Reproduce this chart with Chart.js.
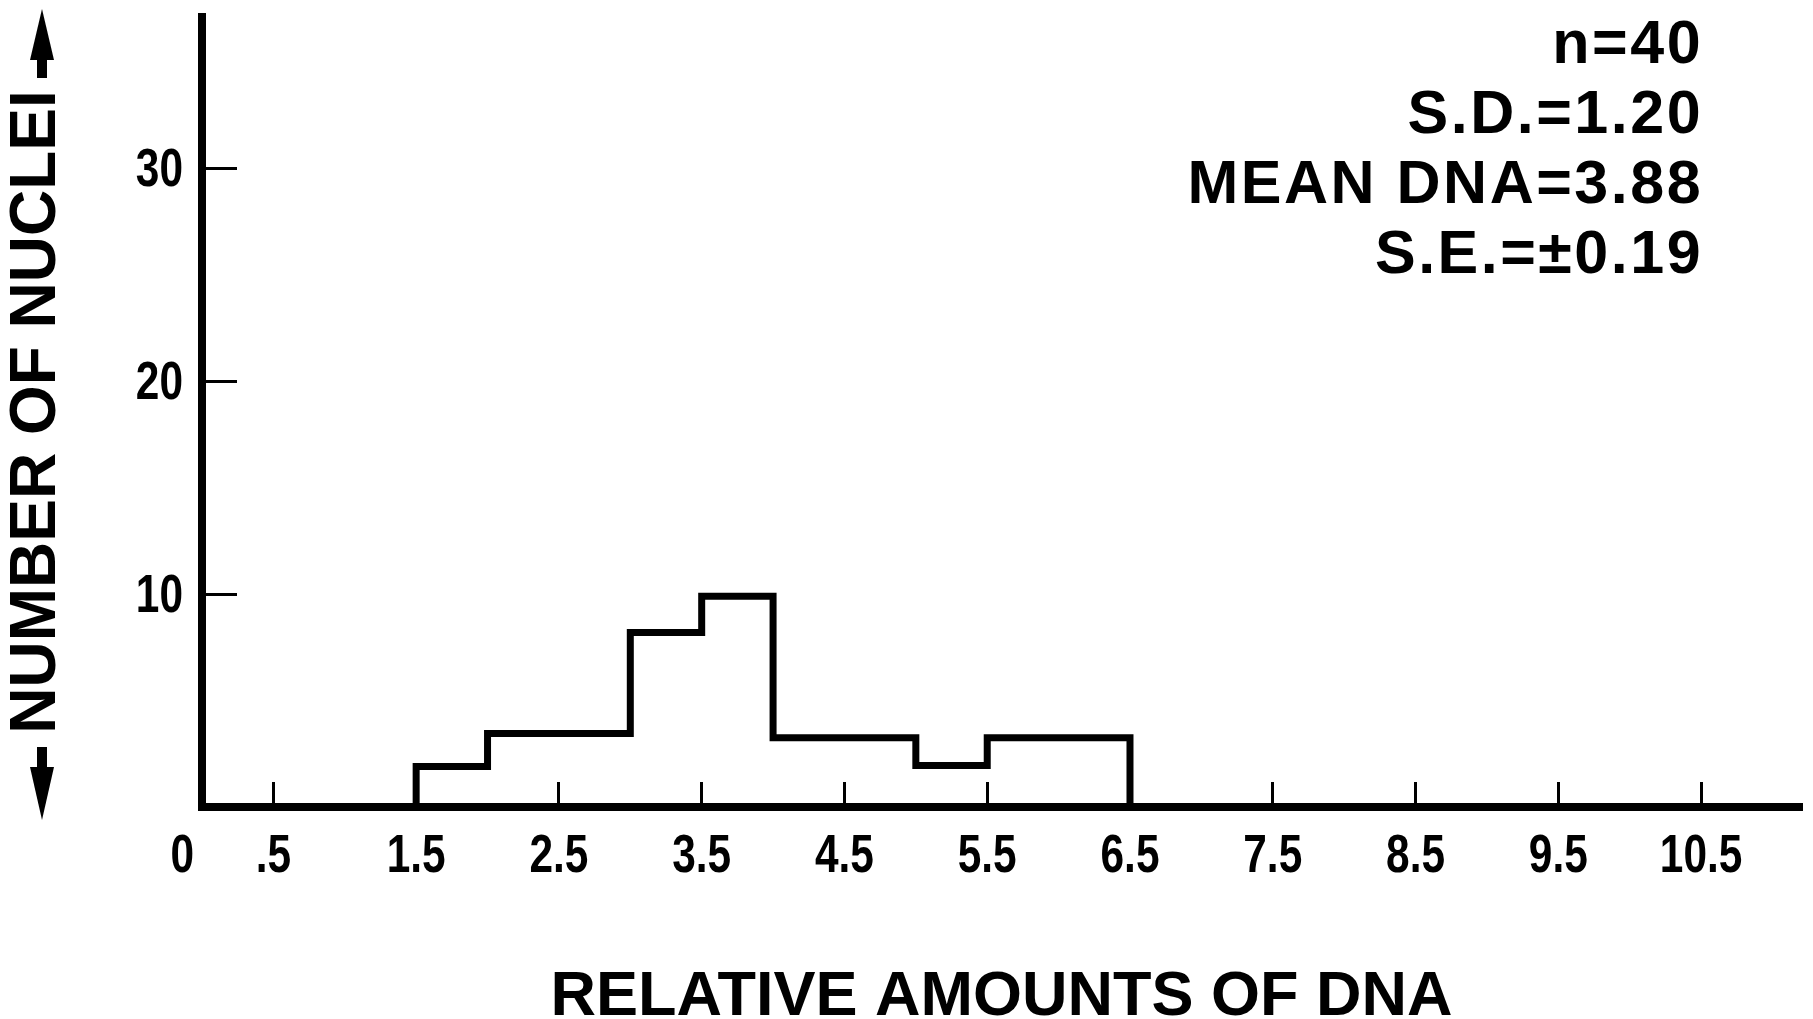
<!DOCTYPE html>
<html><head><meta charset="utf-8">
<script src="https://cdn.jsdelivr.net/npm/chart.js@4/dist/chart.umd.min.js"></script>
<style>html,body{margin:0;padding:0;background:#fff;} #wrap{width:1813px;height:1019px;position:relative;} canvas{display:block;}</style>
</head><body><div id="wrap"><canvas id="c" width="1813" height="1019"></canvas></div>
<script>
const binEdges = [1.5, 2.0, 3.0, 3.5, 4.0, 5.0, 5.5, 6.5];
const binCounts = [1.9, 3.45, 8.2, 9.9, 3.25, 1.95, 3.25];
const xTickValues = [0, 0.5, 1.5, 2.5, 3.5, 4.5, 5.5, 6.5, 7.5, 8.5, 9.5, 10.5];
const xTickLabels = ['0', '.5', '1.5', '2.5', '3.5', '4.5', '5.5', '6.5', '7.5', '8.5', '9.5', '10.5'];
const yTickValues = [10, 20, 30];
const yTickLabels = ['10', '20', '30'];
const xRange = [0, 11.2];
const yRange = [0, 37.1];
const xTitle = 'RELATIVE AMOUNTS OF DNA';
const yTitle = 'NUMBER OF NUCLEI';
const statLines = ['n=40', 'S.D.=1.20', 'MEAN DNA=3.88', 'S.E.=\u00B10.19'];

// build stepped outline points from the bins
const points = [{x: binEdges[0], y: 0}];
binCounts.forEach((c, i) => points.push({x: binEdges[i], y: c}));
points.push({x: binEdges[binEdges.length - 1], y: binCounts[binCounts.length - 1]});
points.push({x: binEdges[binEdges.length - 1], y: 0});

const BOLD = "'Liberation Sans', Arial, sans-serif";
const SQUEEZE = 0.8;

function condensedText(ctx, text, x, y) {
  ctx.save();
  ctx.translate(x, y);
  ctx.scale(SQUEEZE, 1);
  ctx.fillText(text, 0, 0);
  ctx.restore();
}

const extras = {
  id: 'extras',
  afterDraw(chart) {
    const ctx = chart.ctx;
    const xs = chart.scales.x;
    const ys = chart.scales.y;
    const area = chart.chartArea;
    ctx.save();
    ctx.fillStyle = '#000';
    // condensed tick labels taken from the scales' ticks
    ctx.font = 'bold 53px ' + BOLD;
    ctx.textBaseline = 'alphabetic';
    xs.ticks.forEach((t, i) => {
      const px = xs.getPixelForValue(t.value);
      if (i === 0) { ctx.textAlign = 'right'; condensedText(ctx, t.label, px - 8, xs.top + 65); }
      else { ctx.textAlign = 'center'; condensedText(ctx, t.label, px, xs.top + 65); }
    });
    ctx.textAlign = 'right';
    ys.ticks.forEach((t) => {
      const py = ys.getPixelForValue(t.value);
      condensedText(ctx, t.label, ys.right - 19, py + 18);
    });
    // statistics block
    ctx.font = 'bold 61px ' + BOLD;
    ctx.textAlign = 'right';
    try { ctx.letterSpacing = '2.5px'; } catch (e) {}
    const rx = xs.getPixelForValue(xTickValues[xTickValues.length - 1]) + 2;
    const base0 = area.top + 46;
    statLines.forEach((t, i) => ctx.fillText(t, rx, base0 + i * 70));
    try { ctx.letterSpacing = '0px'; } catch (e) {}
    // arrows on the y-axis title
    const cx = 42;
    ctx.fillRect(cx - 5, 55, 10, 23);
    ctx.beginPath();
    ctx.moveTo(cx, 9);
    ctx.lineTo(cx - 12, 60);
    ctx.lineTo(cx + 12, 60);
    ctx.closePath(); ctx.fill();
    ctx.fillRect(cx - 5, 747, 10, 24);
    ctx.beginPath();
    ctx.moveTo(cx, 820);
    ctx.lineTo(cx - 12, 767);
    ctx.lineTo(cx + 12, 767);
    ctx.closePath(); ctx.fill();
    ctx.restore();
  }
};

new Chart(document.getElementById('c'), {
  type: 'line',
  data: {
    datasets: [{
      data: points,
      stepped: 'before',
      borderColor: '#000',
      borderWidth: 7,
      borderJoinStyle: 'miter',
      borderCapStyle: 'butt',
      pointRadius: 0,
      fill: false,
      tension: 0
    }]
  },
  options: {
    responsive: false,
    animation: false,
    devicePixelRatio: 1,
    layout: {padding: {top: 17, right: 12, left: 0, bottom: 0}},
    plugins: {legend: {display: false}, tooltip: {enabled: false}},
    scales: {
      x: {
        type: 'linear',
        min: xRange[0], max: xRange[1],
        afterBuildTicks: (s) => { s.ticks = xTickValues.map(v => ({value: v})); },
        afterFit: (s) => { s.height = 212; s.paddingLeft = 0; s.paddingRight = 0; },
        ticks: {
          display: false,
          autoSkip: false, maxRotation: 0, minRotation: 0,
          callback: (v, i) => xTickLabels[i]
        },
        grid: {drawOnChartArea: false, drawTicks: true, tickLength: -25, lineWidth: 3, color: '#000'},
        border: {display: true, width: 8, color: '#000'},
        title: {display: true, text: xTitle, color: '#000',
          font: {family: BOLD, size: 63, weight: 'bold', lineHeight: 0.6},
          padding: {top: 0, bottom: 2}}
      },
      y: {
        type: 'linear',
        min: yRange[0], max: yRange[1],
        afterBuildTicks: (s) => { s.ticks = yTickValues.map(v => ({value: v})); },
        afterFit: (s) => { s.width = 202; s.paddingTop = 0; s.paddingBottom = 0; },
        ticks: {
          display: false,
          callback: (v, i) => yTickLabels[i]
        },
        grid: {drawOnChartArea: false, drawTicks: true, tickLength: -35, lineWidth: 3, color: '#000'},
        border: {display: true, width: 8, color: '#000'},
        title: {display: true, text: yTitle, color: '#000',
          font: {family: BOLD, size: 64, weight: 'bold', lineHeight: 1},
          padding: {top: 5, bottom: 0}}
      }
    }
  },
  plugins: [extras]
});
</script></body></html>
